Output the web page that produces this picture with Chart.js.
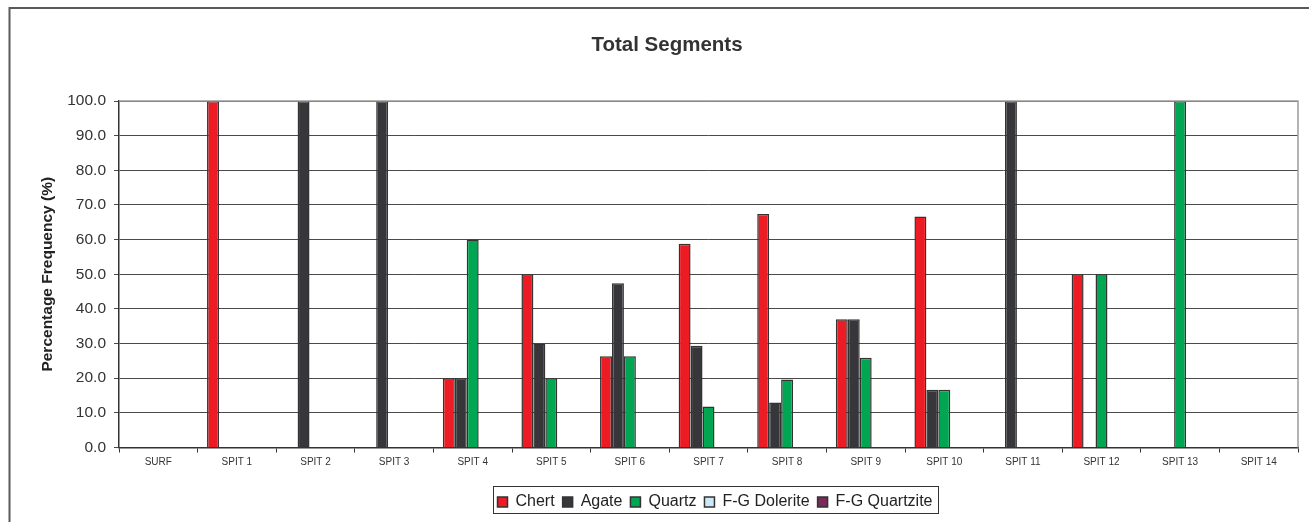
<!DOCTYPE html>
<html>
<head>
<meta charset="utf-8">
<script src="https://cdn.jsdelivr.net/npm/chart.js@4"></script>
<style>
    html, body { margin: 0; padding: 0; background: #fff; overflow: hidden; }
    #wrap { position: relative; width: 1309px; height: 522px; }
</style>
</head>
<body>
<div id="wrap">
    <canvas id="myChart" width="1309" height="522"></canvas>
</div>
<script>
const categories = ['SURF', 'SPIT 1', 'SPIT 2', 'SPIT 3', 'SPIT 4', 'SPIT 5', 'SPIT 6', 'SPIT 7',
    'SPIT 8', 'SPIT 9', 'SPIT 10', 'SPIT 11', 'SPIT 12', 'SPIT 13', 'SPIT 14'];

const chertValues     = [0, 100, 0, 0, 20, 50, 26.3, 58.8, 67.4, 37.0, 66.7, 0, 50, 0, 0];
const agateValues     = [0, 0, 100, 100, 20, 30, 47.4, 29.4, 13.0, 37.0, 16.7, 100, 0, 0, 0];
const quartzValues    = [0, 0, 0, 0, 60, 20, 26.3, 11.8, 19.6, 25.9, 16.7, 0, 50, 100, 0];
const doleriteValues  = [0, 0, 0, 0, 0, 0, 0, 0, 0, 0, 0, 0, 0, 0, 0];
const quartziteValues = [0, 0, 0, 0, 0, 0, 0, 0, 0, 0, 0, 0, 0, 0, 0];

const yTicks = [0, 10, 20, 30, 40, 50, 60, 70, 80, 90, 100];

const FONT = "'Liberation Sans', Arial, sans-serif";

function makeSet(label, color, values) {
    return {
        label: label,
        data: values,
        backgroundColor: color,
        borderColor: '#333333',
        borderWidth: 1.5,
        borderSkipped: 'bottom',
        barPercentage: 1.0,
        categoryPercentage: 0.76
    };
}

// frame round the whole chart plus the plot border and the legend box
const decorPlugin = {
    id: 'decor',
    afterLayout(chart) {
        // title and legend sit a bit right of the canvas centre
        if (chart.titleBlock) {
            chart.titleBlock.left += 18;
            chart.titleBlock.right += 18;
        }
        chart.legend.left += 66;
        chart.legend.right += 66;
        chart.legend.top += 1;
        chart.legend.bottom += 1;
    },
    beforeDraw(chart) {
        const ctx = chart.ctx;
        ctx.save();
        ctx.strokeStyle = '#5a5a5a';
        ctx.lineWidth = 2;
        ctx.beginPath();
        ctx.moveTo(9.5, 540);
        ctx.lineTo(9.5, 8);
        ctx.lineTo(1320, 8);
        ctx.stroke();
        ctx.restore();
    },
    afterDatasetsDraw(chart) {
        const a = chart.chartArea;
        const ctx = chart.ctx;
        ctx.save();
        ctx.strokeStyle = '#a09a9a';
        ctx.lineWidth = 1.5;
        ctx.beginPath();
        ctx.moveTo(a.left, a.top);
        ctx.lineTo(a.right, a.top);
        ctx.lineTo(a.right, a.bottom);
        ctx.stroke();
        ctx.restore();
    },
    afterDraw(chart) {
        const boxes = chart.legend.legendHitBoxes;
        if (!boxes || !boxes.length) return;
        let l = Infinity, r = -Infinity, t = Infinity;
        boxes.forEach(b => {
            l = Math.min(l, b.left);
            r = Math.max(r, b.left + b.width);
            t = Math.min(t, b.top);
        });
        const ctx = chart.ctx;
        ctx.save();
        ctx.strokeStyle = '#333333';
        ctx.lineWidth = 1;
        ctx.strokeRect(Math.round(l - 5) + 0.5, Math.round(t - 8) + 0.5, Math.round(r - l + 10), 27);
        ctx.restore();
    }
};

const ctx = document.getElementById('myChart').getContext('2d');
const chartInstance = new Chart(ctx, {
    type: 'bar',
    data: {
        labels: categories,
        datasets: [
            makeSet('Chert', '#ed1c24', chertValues),
            makeSet('Agate', '#37363b', agateValues),
            makeSet('Quartz', '#00a651', quartzValues),
            makeSet('F-G Dolerite', '#cce9f8', doleriteValues),
            makeSet('F-G Quartzite', '#7a2a58', quartziteValues)
        ]
    },
    options: {
        responsive: false,
        animation: false,
        layout: {
            padding: { left: 0, right: 11, top: 32.7, bottom: 3 }
        },
        plugins: {
            title: {
                display: true,
                text: 'Total Segments',
                color: '#333333',
                font: { family: FONT, size: 20.5, weight: 'bold' },
                padding: { top: 0, bottom: 43.7 }
            },
            legend: {
                position: 'bottom',
                labels: {
                    color: '#222222',
                    font: { family: FONT, size: 16 },
                    boxWidth: 10,
                    boxHeight: 10,
                    padding: 8
                }
            },
            tooltip: { enabled: false }
        },
        scales: {
            x: {
                grid: {
                    drawOnChartArea: false,
                    drawTicks: true,
                    tickLength: 5,
                    color: '#333333'
                },
                border: { color: '#333333', width: 1.5 },
                ticks: {
                    color: '#333333',
                    font: { family: FONT, size: 10 },
                    padding: 4,
                    maxRotation: 0,
                    autoSkip: false
                },
                afterFit(scale) { scale.height = 37.5; }
            },
            y: {
                min: 0,
                max: 100,
                afterBuildTicks(scale) {
                    scale.ticks = yTicks.map(v => ({ value: v }));
                },
                grid: {
                    color: '#4a4a4a',
                    lineWidth: 1,
                    tickLength: 5
                },
                border: { color: '#333333', width: 1.5 },
                ticks: {
                    color: '#333333',
                    font: { family: FONT, size: 15.5 },
                    padding: 8,
                    callback: v => v.toFixed(1)
                },
                title: {
                    display: true,
                    text: 'Percentage Frequency (%)',
                    color: '#222222',
                    font: { family: FONT, size: 15.5, weight: 'bold' },
                    padding: { top: 38.2, bottom: 0 }
                },
                afterFit(scale) { scale.width = 119; }
            }
        }
    },
    plugins: [decorPlugin]
});
</script>
</body>
</html>
